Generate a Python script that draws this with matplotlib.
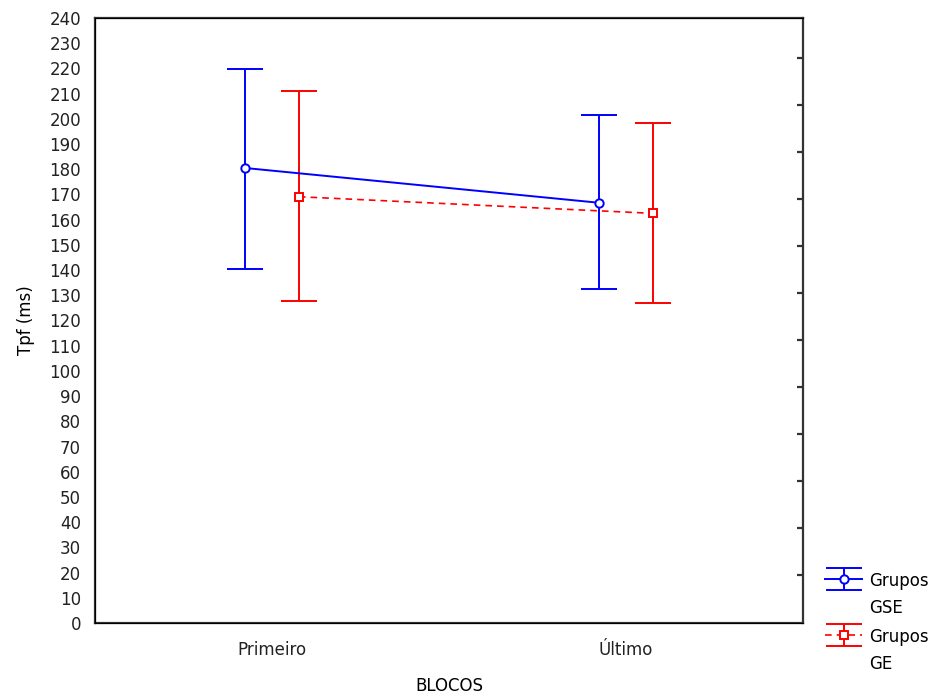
import numpy as np
import matplotlib
matplotlib.use("Agg")
import matplotlib.pyplot as plt
from matplotlib.container import ErrorbarContainer
from matplotlib.legend_handler import HandlerErrorbar

# values
blocos = ["Primeiro", "Último"]
gse_mean = [180.5, 166.7]
gse_low = [140.4, 132.5]
gse_high = [219.8, 201.5]
ge_mean = [169.1, 162.5]
ge_low = [127.9, 126.9]
ge_high = [211.0, 198.3]

plt.rcParams['font.family'] = ['DejaVu Sans']
plt.rcParams['font.size'] = 12


class TopErrorbar(HandlerErrorbar):
    # put the legend symbol next to the first line of a two-line label
    def create_artists(self, legend, orig_handle, xdescent, ydescent,
                       width, height, fontsize, trans):
        return super().create_artists(legend, orig_handle, xdescent, ydescent - 24,
                                      width, height, fontsize, trans)


fig = plt.figure(figsize=(9.45, 6.96), dpi=100)
ax = fig.add_axes([95 / 945, 1 - 623 / 696, 708 / 945, 605 / 696])

x = np.arange(len(blocos))
off = 0.076

gse_err = [np.array(gse_mean) - np.array(gse_low), np.array(gse_high) - np.array(gse_mean)]
ge_err = [np.array(ge_mean) - np.array(ge_low), np.array(ge_high) - np.array(ge_mean)]

ax.errorbar(x - off, gse_mean, yerr=gse_err, color='#0000ff', lw=1.4, elinewidth=1.4,
            capsize=13, capthick=1.4, marker='o', ms=6, mfc='white', mew=1.4,
            label='Grupos\nGSE')
ax.errorbar(x + off, ge_mean, yerr=ge_err, color='#ff0000', lw=1.2, elinewidth=1.4,
            ls=(0, (4, 3)), capsize=13, capthick=1.4, marker='s', ms=6, mfc='white',
            mew=1.4, label='Grupos\nGE')

ax.set_xlim(-0.5, 1.5)
ax.set_ylim(0, 240)
ax.set_yticks(np.arange(0, 241, 10))
ax.set_xticks(x)
ax.set_xticklabels(blocos)
ax.tick_params(length=0, colors='#222222')
ax.tick_params(axis='y', pad=10)
ax.tick_params(axis='x', pad=13)
for s in ax.spines.values():
    s.set_linewidth(1.6)
    s.set_color('#333333')

ax.set_xlabel('BLOCOS', labelpad=13)
ax.set_ylabel('Tpf (ms)', labelpad=10)

# stray inner ticks on the right edge
ax2 = ax.twinx()
ax2.set_ylim(0, 240)
ax2.set_yticks(np.linspace(18.9, 224.3, 12))
ax2.tick_params(axis='y', direction='in', length=4, width=1.6, color='#333333', labelright=False)
ax2.spines['right'].set_visible(False)

leg = fig.legend(loc='upper left', bbox_to_anchor=(817 / 945, 1 - 564 / 696), frameon=False,
                 handlelength=2.2, handletextpad=0.45, labelspacing=0.7, borderpad=0,
                 handler_map={ErrorbarContainer: TopErrorbar(yerr_size=0.65)})
for t in leg.get_texts():
    t.set_linespacing(1.6)

fig.savefig('out.png', dpi=100)
